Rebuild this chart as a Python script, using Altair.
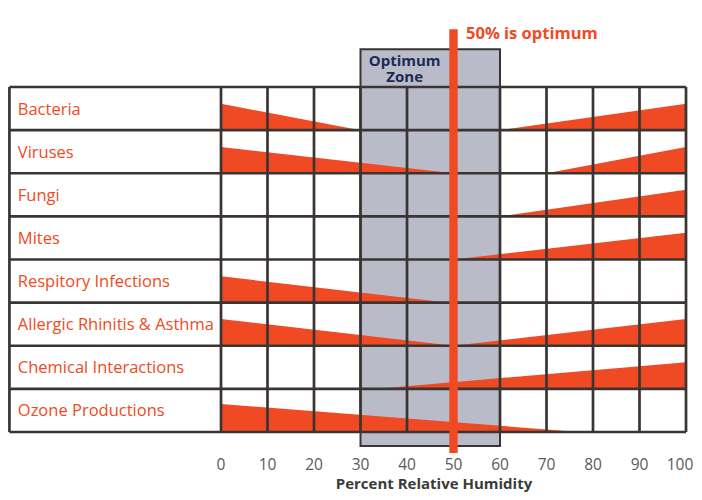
import altair as alt
import pandas as pd

# ---- data ----
categories = ["Bacteria", "Viruses", "Fungi", "Mites", "Respitory Infections",
              "Allergic Rhinitis & Asthma", "Chemical Interactions", "Ozone Productions"]
# low-humidity side: relative risk at 0% RH, and RH where that risk vanishes
low_risk = [0.61, 0.61, 0.0, 0.0, 0.61, 0.62, 0.0, 0.65]
low_end = [30, 50, None, None, 49, 50, None, 77]
# high-humidity side: RH where risk begins, and relative risk at 100% RH
high_start = [60, 70, 60, 50, None, 50, 33, None]
high_risk = [0.61, 0.61, 0.62, 0.62, 0.0, 0.62, 0.62, 0.0]

humidity_ticks = [0, 10, 20, 30, 40, 50, 60, 70, 80, 90, 100]
zone_low, zone_high = 30, 60
optimum = 50
optimum_label = "50% is optimum"
zone_label = ["Optimum", "Zone"]
x_title = "Percent Relative Humidity"

# ---- styling ----
RED = "#ef4a23"
GRID = "#3a3532"
ZONE = "#b9bbc9"
NAVY = "#1c2a58"
FONT = "Open Sans"

n = len(categories)
x_scale = alt.Scale(domain=[-45.806, 101.72], nice=False, zero=False)
y_scale = alt.Scale(domain=[-1.3913, 9.832], nice=False, zero=False)

def X(f):
    return alt.X(f, type="quantitative", scale=x_scale, axis=None)

def Y(f):
    return alt.Y(f, type="quantitative", scale=y_scale, axis=None)

def XD(v):
    return alt.XDatum(v, type="quantitative", scale=x_scale, axis=None)

def YD(v):
    return alt.YDatum(v, type="quantitative", scale=y_scale, axis=None)

# triangles
tri = []
for i, c in enumerate(categories):
    base = n - 1 - i
    if low_end[i] is not None:
        g = c + " low"
        tri.append(dict(group=g, h=0, top=base + low_risk[i], base=base))
        tri.append(dict(group=g, h=low_end[i], top=base, base=base))
    if high_start[i] is not None:
        g = c + " high"
        tri.append(dict(group=g, h=high_start[i], top=base, base=base))
        tri.append(dict(group=g, h=100, top=base + high_risk[i], base=base))
tri_df = pd.DataFrame(tri)

zone_df = pd.DataFrame({"lo": [zone_low], "hi": [zone_high]})
zone = alt.Chart(zone_df).mark_rect(fill=ZONE, stroke=GRID, strokeWidth=2).encode(
    x=X("lo"), x2="hi", y=YD(-0.325), y2=alt.Y2Datum(8.874)
)

areas = alt.Chart(tri_df).mark_area(color=RED, opacity=1, interpolate="linear").encode(
    x=X("h"), y=Y("top"), y2="base", detail="group:N"
)

vgrid_df = pd.DataFrame({"h": humidity_ticks})
vgrid = alt.Chart(vgrid_df).mark_rule(color=GRID, strokeWidth=2.7).encode(
    x=X("h"), y=YD(0), y2=alt.Y2Datum(n)
)

left_df = pd.DataFrame({"h": [-45.5]})
left = alt.Chart(left_df).mark_rule(color=GRID, strokeWidth=2.7).encode(
    x=X("h"), y=YD(0), y2=alt.Y2Datum(n)
)

hgrid_df = pd.DataFrame({"r": list(range(n + 1))})
hgrid = alt.Chart(hgrid_df).mark_rule(color=GRID, strokeWidth=2.7).encode(
    y=Y("r"), x=XD(-45.5), x2=alt.X2Datum(100)
)

opt_df = pd.DataFrame({"h": [optimum]})
optline = alt.Chart(opt_df).mark_rule(color=RED, strokeWidth=8.4, strokeCap="butt").encode(
    x=X("h"), y=YD(-0.487), y2=alt.Y2Datum(9.338)
)

lab_df = pd.DataFrame({"cat": categories, "pos": [n - 1 - i + 0.5 for i in range(n)]})
labels = alt.Chart(lab_df).mark_text(
    align="left", baseline="middle", font=FONT, fontSize=16.5, color=RED, dy=1
).encode(x=XD(-43.7), y=Y("pos"), text="cat:N")

opt_text = alt.Chart(pd.DataFrame({"t": [optimum_label]})).mark_text(
    align="left", baseline="middle", font=FONT, fontSize=16.5, fontWeight="bold", color=RED
).encode(x=XD(52.7), y=YD(9.23), text="t:N")

zone_text = alt.Chart(pd.DataFrame({"t": zone_label, "p": [8.614, 8.243]})).mark_text(
    align="center", baseline="middle", font=FONT, fontSize=15, fontWeight="bold", color=NAVY
).encode(x=XD(39.5), y=Y("p"), text="t:N")

# x tick labels (bottom axis)
tick_df = pd.DataFrame({"h": humidity_ticks, "t": [str(v) for v in humidity_ticks]})
tick_main = alt.Chart(tick_df).transform_filter(alt.datum.h < 100).mark_text(
    align="center", baseline="middle", font=FONT, fontSize=15.5, color="#5a5a5a"
).encode(x=X("h"), y=YD(-0.765), text="t:N")
tick_last = alt.Chart(tick_df).transform_filter(alt.datum.h == 100).mark_text(
    align="center", baseline="middle", font=FONT, fontSize=15.5, color="#5a5a5a", dx=-6
).encode(x=X("h"), y=YD(-0.765), text="t:N")

title_df = pd.DataFrame({"t": [x_title]})
x_title_mark = alt.Chart(title_df).mark_text(
    align="center", baseline="alphabetic", font=FONT, fontSize=15, fontWeight="bold",
    color="#3a3a3a"
).encode(x=XD(45.8), y=YD(-1.3217), text="t:N")

chart = alt.layer(zone, areas, vgrid, left, hgrid, optline, labels, opt_text, zone_text,
                  tick_main, tick_last, x_title_mark).properties(
    width=686, height=484,
    autosize=alt.AutoSizeParams(type="none"),
    padding={"left": 0, "top": 0, "right": 0, "bottom": 0},
).configure_view(stroke=None)

chart.save("out.html", embed_options={"renderer": "svg", "actions": False})
